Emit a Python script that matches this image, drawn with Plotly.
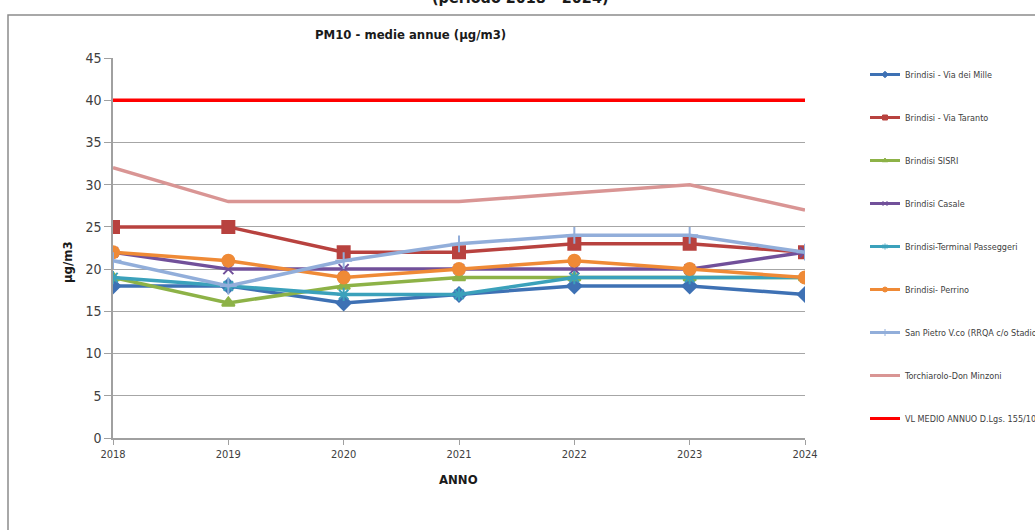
import plotly.graph_objects as go

# Years on the x axis
anni = [2018, 2019, 2020, 2021, 2022, 2023, 2024]

# Annual PM10 means (µg/m3) per monitoring station
via_dei_mille = [18, 18, 16, 17, 18, 18, 17]
via_taranto = [25, 25, 22, 22, 23, 23, 22]
sisri = [19, 16, 18, 19, 19, 19, 19]
casale = [22, 20, 20, 20, 20, 20, 22]
terminal_passeggeri = [19, 18, 17, 17, 19, 19, 19]
perrino = [22, 21, 19, 20, 21, 20, 19]
san_pietro = [21, 18, 21, 23, 24, 24, 22]
torchiarolo = [32, 28, 28, 28, 29, 30, 27]
valore_limite = [40, 40, 40, 40, 40, 40, 40]

y_ticks = [0, 5, 10, 15, 20, 25, 30, 35, 40, 45]

series = [
    ("Brindisi - Via dei Mille", via_dei_mille, "#3E71B4", "diamond", 11),
    ("Brindisi - Via Taranto", via_taranto, "#B8423F", "square", 12),
    ("Brindisi SISRI", sisri, "#8DB247", "triangle-up", 11),
    ("Brindisi Casale", casale, "#71509A", "x-thin-open", 10),
    ("Brindisi-Terminal Passeggeri", terminal_passeggeri, "#3BA1BB", "asterisk-open", 11),
    ("Brindisi- Perrino", perrino, "#EF8A36", "circle", 12),
    ("San Pietro V.co (RRQA c/o Stadio)", san_pietro, "#92AEDA", "cross-thin-open", 12),
    ("Torchiarolo-Don Minzoni", torchiarolo, "#D99594", None, 0),
    ("VL MEDIO ANNUO D.Lgs. 155/10", valore_limite, "#FF0000", None, 0),
]

fig = go.Figure()
for i, (nome, valori, colore, simbolo, dim) in enumerate(series):
    if simbolo is None:
        fig.add_trace(go.Scatter(
            x=anni, y=valori, name=nome, mode="lines",
            line=dict(color=colore, width=3.5),
            showlegend=False,
        ))
        # compact legend entry
        fig.add_trace(go.Scatter(
            x=[None], y=[None], name=nome, mode="lines",
            line=dict(color=colore, width=3),
            legendgroup=f"g{i}", hoverinfo="skip",
        ))
    else:
        fig.add_trace(go.Scatter(
            x=anni, y=valori, name=nome, mode="lines+markers",
            line=dict(color=colore, width=3.5),
            marker=dict(symbol=simbolo, size=dim, color=colore,
                        line=dict(color=colore, width=2)),
            showlegend=False,
        ))
        # compact legend entry with a small marker
        fig.add_trace(go.Scatter(
            x=[None], y=[None], name=nome, mode="lines+markers",
            line=dict(color=colore, width=3),
            marker=dict(symbol=simbolo, size=5, color=colore,
                        line=dict(color=colore, width=1)),
            legendgroup=f"g{i}", hoverinfo="skip",
        ))

L, R, T, B = 113, 805, 58, 438
W, H = 1035, 530
pw, ph = R - L, B - T


def px(xp):
    return (xp - L) / pw


def py(yp):
    return (B - yp) / ph


fig.update_layout(
    width=W, height=H,
    margin=dict(l=L, r=W - R, t=T, b=H - B, autoexpand=False),
    paper_bgcolor="white", plot_bgcolor="white",
    font=dict(family="Liberation Sans Narrow, DejaVu Sans Condensed, Arial Narrow, sans-serif",
              color="#404040"),
    showlegend=True,
    legend=dict(
        x=px(865), y=py(60), xanchor="left", yanchor="top",
        traceorder="grouped", tracegroupgap=24,
        font=dict(size=9, color="#404040"),
        itemwidth=30, bgcolor="rgba(0,0,0,0)",
    ),
    xaxis=dict(
        range=[2018, 2024], tickmode="array", tickvals=anni,
        ticktext=[str(a) for a in anni],
        showgrid=False, showline=True, linecolor="#A0A0A0", linewidth=1.5,
        ticks="outside", ticklen=5, tickcolor="#A0A0A0",
        tickfont=dict(size=11, color="#404040"),
        zeroline=False,
    ),
    yaxis=dict(
        range=[0, 45], tickmode="array", tickvals=y_ticks,
        showgrid=True, gridcolor="#A6A6A6", gridwidth=1.2,
        showline=True, linecolor="#A0A0A0", linewidth=1.5,
        ticks="outside", ticklen=7, tickcolor="#A0A0A0",
        tickfont=dict(size=14, color="#404040"),
        zeroline=False,
    ),
    shapes=[
        dict(type="rect", xref="paper", yref="paper",
             x0=px(8), x1=px(1045), y0=py(545), y1=py(15),
             line=dict(color="#8C8C8C", width=1.5), layer="below"),
    ],
    annotations=[
        dict(text="<b>(periodo 2018 - 2024)</b>", xref="paper", yref="paper",
             x=px(520), y=py(-3), xanchor="center", yanchor="middle",
             showarrow=False, font=dict(size=16, color="#1A1A1A")),
        dict(text="<b>PM10 - medie annue (µg/m3)</b>", xref="paper", yref="paper",
             x=px(410), y=py(35), xanchor="center", yanchor="middle",
             showarrow=False, font=dict(size=13, color="#1A1A1A")),
        dict(text="<b>µg/m3</b>", xref="paper", yref="paper",
             x=px(67), y=py(262), xanchor="center", yanchor="middle",
             textangle=-90, showarrow=False, font=dict(size=13, color="#1A1A1A")),
        dict(text="<b>ANNO</b>", xref="paper", yref="paper",
             x=px(458), y=py(479), xanchor="center", yanchor="middle",
             showarrow=False, font=dict(size=13, color="#1A1A1A")),
    ],
)

fig.write_html("out.html")
